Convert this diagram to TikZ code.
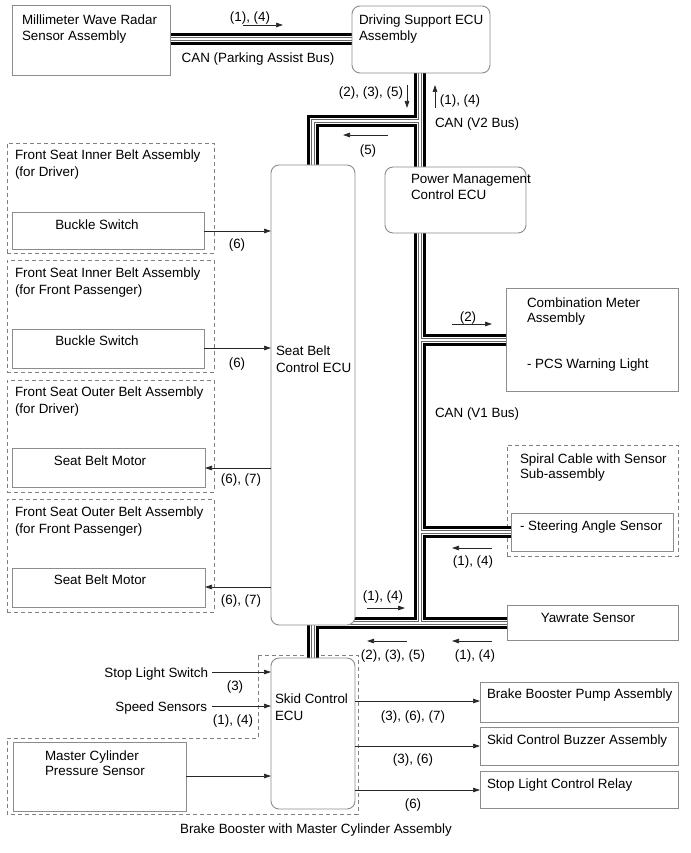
\documentclass[tikz,border=0pt]{standalone}
\usepackage{fontspec}
\setmainfont{Liberation Sans}
\usetikzlibrary{arrows.meta}
\pgfdeclarelayer{bg}
\pgfdeclarelayer{back}
\pgfdeclarelayer{bus}
\pgfsetlayers{bg,back,bus,main}
\begin{document}
\begin{tikzpicture}[x=1pt,y=-1pt,
  every node/.style={font=\fontsize{13.4}{17}\selectfont, inner sep=0pt, outer sep=0pt},
  sqbox/.style={draw=black!45, line width=0.9pt, fill=white, anchor=north west},
  rbox/.style={draw=black!45, line width=0.9pt, fill=white, anchor=north west, rounded corners=8pt},
  dbox/.style={draw=black!50, line width=0.8pt, dash pattern=on 4pt off 3pt, anchor=north west},
  tl/.style={anchor=base west},
  tc/.style={anchor=base},
  tr/.style={anchor=base east},
  arr/.style={draw=black!85, line width=0.7pt, -{Triangle[length=7pt,width=4.5pt]}}]
\useasboundingbox (0,0) rectangle (690,853);
\begin{pgfonlayer}{bg}
\fill[white] (0,0) rectangle (690,853);
\end{pgfonlayer}

% ---------- solid boxes ----------
\node[sqbox, minimum width=158pt, minimum height=70pt] (radar) at (12,5) {};
\node[rbox, minimum width=138pt, minimum height=67pt] (dsecu) at (352,6) {};
\node[rbox, minimum width=84pt, minimum height=460pt] (sbecu) at (271,165) {};
\node[rbox, minimum width=141pt, minimum height=66pt] (pmecu) at (385,167) {};
\node[sqbox, minimum width=172pt, minimum height=103pt] (cmeter) at (506,288) {};
\node[sqbox, minimum width=162pt, minimum height=38pt] (steer) at (511,513) {};
\node[sqbox, minimum width=171pt, minimum height=35pt] (yaw) at (507,605) {};
\node[sqbox, minimum width=192pt, minimum height=37pt] (buckle1) at (12,212) {};
\node[sqbox, minimum width=192pt, minimum height=39pt] (buckle2) at (12,329) {};
\node[sqbox, minimum width=193pt, minimum height=39pt] (motor1) at (12,448) {};
\node[sqbox, minimum width=193pt, minimum height=39pt] (motor2) at (12,568) {};
\node[rbox, minimum width=84pt, minimum height=151pt] (skid) at (271,658) {};
\node[sqbox, minimum width=173pt, minimum height=69pt] (mcyl) at (13,742) {};
\node[sqbox, minimum width=198pt, minimum height=40pt] (bbpump) at (480,682) {};
\node[sqbox, minimum width=198pt, minimum height=38pt] (buzzer) at (480,727) {};
\node[sqbox, minimum width=198pt, minimum height=37pt] (relay) at (480,771) {};

% ---------- dashed groups ----------
\begin{pgfonlayer}{back}
\node[dbox, minimum width=207pt, minimum height=110pt] (fs1) at (7,143) {};
\node[dbox, minimum width=207pt, minimum height=112pt] (fs2) at (7,260) {};
\node[dbox, minimum width=207pt, minimum height=112pt] (fs3) at (7,380) {};
\node[dbox, minimum width=207pt, minimum height=113pt] (fs4) at (7,499) {};
\node[dbox, minimum width=171pt, minimum height=111pt] (spiral) at (507,445) {};
\draw[draw=black!50, line width=0.8pt, dash pattern=on 4pt off 3pt]
  (258,655) -- (358,655) -- (358,814) -- (7,814) -- (7,738) -- (258,738) -- cycle;
\end{pgfonlayer}

% ---------- CAN bus ----------
\coordinate (pa) at (0,39.5);
\coordinate (v2top) at (420,73);
\coordinate (jb) at (420,623);
\coordinate (j1) at (420,121);
\coordinate (c1) at (313,121);
\coordinate (j2) at (420,340);
\coordinate (j3) at (420,532);
\coordinate (c2) at (313,623);
\begin{pgfonlayer}{bus}
\foreach \w/\c in {12/black,6/white,4/black!60,2/white}{
  \draw[line width=\w pt, draw=\c]
    (radar.east |- pa) -- (dsecu.west |- pa)
    (v2top) -- (jb)
    (j1) -- (c1) -- (sbecu.north)
    (j2) -- (cmeter.west |- j2)
    (j3) -- (steer.west |- j3)
    (skid.north) -- (c2) -- (yaw.west |- c2);
}
\end{pgfonlayer}

% ---------- texts ----------
\node[tl] (t1a) at (22,25) {Millimeter Wave Radar};
\node[tl] (t1b) at (22,41) {Sensor Assembly};
\node[tl] (t2a) at (359,25) {Driving Support ECU};
\node[tl] (t2b) at (359,41) {Assembly};
\node[tl] (t3a) at (15,160) {Front Seat Inner Belt Assembly};
\node[tl] (t3b) at (15,177) {(for Driver)};
\node[tc] (t3c) at (97,229) {Buckle Switch};
\node[tl] (t4a) at (15,277) {Front Seat Inner Belt Assembly};
\node[tl] (t4b) at (15,294) {(for Front Passenger)};
\node[tc] (t4c) at (97,345) {Buckle Switch};
\node[tl] (t5a) at (15,396) {Front Seat Outer Belt Assembly};
\node[tl] (t5b) at (15,413) {(for Driver)};
\node[tc] (t5c) at (100,465) {Seat Belt Motor};
\node[tl] (t6a) at (15,516) {Front Seat Outer Belt Assembly};
\node[tl] (t6b) at (15,533) {(for Front Passenger)};
\node[tc] (t6c) at (100,584) {Seat Belt Motor};
\node[tl] (t7a) at (276,355) {Seat Belt};
\node[tl] (t7b) at (276,372) {Control ECU};
\node[tl] (t8a) at (411,183) {Power Management};
\node[tl] (t8b) at (411,200) {Control ECU};
\node[tl] (t9a) at (527,307) {Combination Meter};
\node[tl] (t9b) at (527,322) {Assembly};
\node[tl] (t9c) at (527,368) {- PCS Warning Light};
\node[tl] (t10a) at (520,463) {Spiral Cable with Sensor};
\node[tl] (t10b) at (520,478) {Sub-assembly};
\node[tl] (t10c) at (520,530) {- Steering Angle Sensor};
\node[tc] (t11) at (588,622) {Yawrate Sensor};
\node[tl] (t12a) at (275,703) {Skid Control};
\node[tl] (t12b) at (275,720) {ECU};
\node[tl] (t13a) at (45,760) {Master Cylinder};
\node[tl] (t13b) at (45,775) {Pressure Sensor};
\node[tr] (sls) at (208,677) {Stop Light Switch};
\node[tr] (spd) at (207,711) {Speed Sensors};
\node[tl] (t14) at (487,698) {Brake Booster Pump Assembly};
\node[tl] (t15) at (487,744) {Skid Control Buzzer Assembly};
\node[tl] (t16) at (487,788) {Stop Light Control Relay};
\node[tc] (t17) at (316,833) {Brake Booster with Master Cylinder Assembly};
\node[tc] (can1) at (258,63) {CAN (Parking Assist Bus)};
\node[tl] (can2) at (435,128) {CAN (V2 Bus)};
\node[tl] (can3) at (435,417) {CAN (V1 Bus)};

% ---------- signal labels and arrows ----------
\node[tc] (l1) at (250,22) {(1), (4)};
\draw[arr] (243,25) -- (283,25);
\node[tc] (l2) at (371,97) {(2), (3), (5)};
\draw[arr] (407,85) -- (407,108);
\node[tc] (l3) at (460,105) {(1), (4)};
\draw[arr] (435,108) -- (435,85);
\node[tc] (l4) at (368,155) {(5)};
\draw[arr] (388,135) -- (343,135);
\node[tc] (l5) at (468,321) {(2)};
\draw[arr] (452,324) -- (492,324);
\node[tc] (l6) at (473,565) {(1), (4)};
\draw[arr] (492,548) -- (452,548);
\node[tc] (l7) at (383,600) {(1), (4)};
\draw[arr] (367,608) -- (405,608);
\node[tc] (l8) at (393,659) {(2), (3), (5)};
\draw[arr] (407,641) -- (367,641);
\node[tc] (l9) at (475,659) {(1), (4)};
\draw[arr] (492,641) -- (452,641);

% ---------- connectors ----------
\coordinate (ya) at (0,231);
\coordinate (yb) at (0,348);
\coordinate (yc) at (0,468);
\coordinate (yd) at (0,587);
\draw[arr] (buckle1.east |- ya) -- (sbecu.west |- ya);
\node[tc] (l10) at (237,248) {(6)};
\draw[arr] (buckle2.east |- yb) -- (sbecu.west |- yb);
\node[tc] (l11) at (237,367) {(6)};
\draw[arr] (sbecu.west |- yc) -- (motor1.east |- yc);
\node[tc] (l12) at (241,483) {(6), (7)};
\draw[arr] (sbecu.west |- yd) -- (motor2.east |- yd);
\node[tc] (l13) at (241,604) {(6), (7)};

\coordinate (ye) at (0,672);
\coordinate (yf) at (0,706);
\coordinate (yg) at (0,776);
\coordinate (xs) at (212,0);
\draw[arr] (xs |- ye) -- (skid.west |- ye);
\node[tc] (l14) at (235,690) {(3)};
\draw[arr] (xs |- yf) -- (skid.west |- yf);
\node[tc] (l15) at (233,724) {(1), (4)};
\draw[arr] (mcyl.east |- yg) -- (skid.west |- yg);

\coordinate (yh) at (0,701);
\coordinate (yi) at (0,746);
\coordinate (yj) at (0,790);
\draw[arr] (skid.east |- yh) -- (bbpump.west |- yh);
\node[tc] (l16) at (413,720) {(3), (6), (7)};
\draw[arr] (skid.east |- yi) -- (buzzer.west |- yi);
\node[tc] (l17) at (413,763) {(3), (6)};
\draw[arr] (skid.east |- yj) -- (relay.west |- yj);
\node[tc] (l18) at (413,808) {(6)};
\end{tikzpicture}
\end{document}
